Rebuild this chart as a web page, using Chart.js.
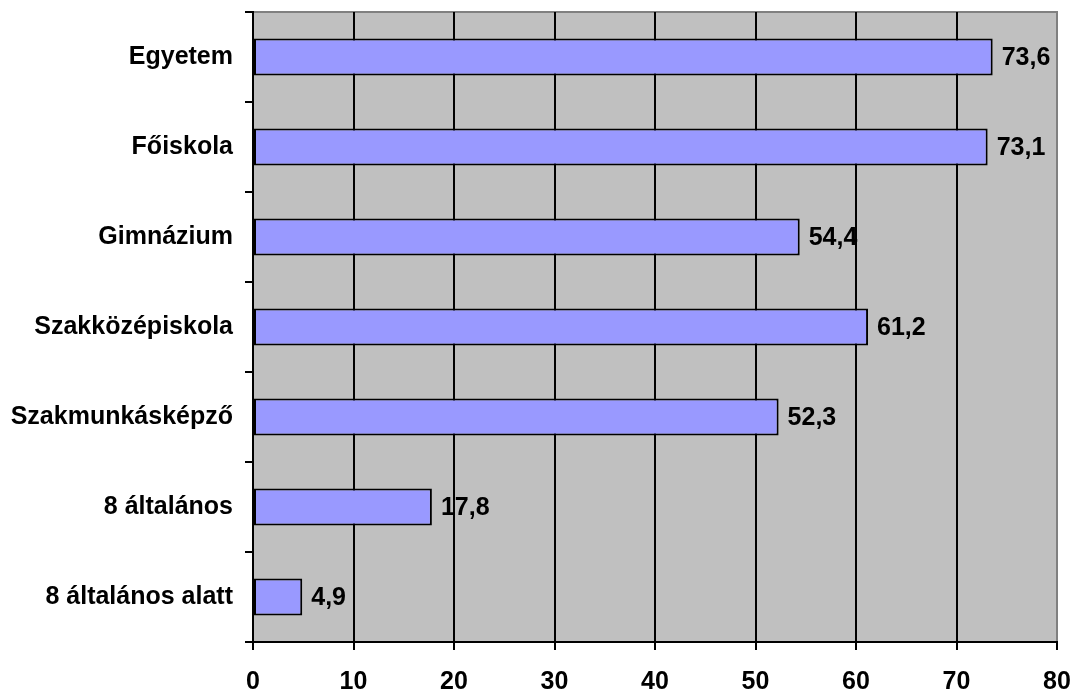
<!DOCTYPE html>
<html>
<head>
<meta charset="utf-8">
<script src="https://cdn.jsdelivr.net/npm/chart.js@4/dist/chart.umd.min.js"></script>
<style>
  html, body { margin: 0; padding: 0; background: #fff; }
  #wrap { width: 1073px; height: 692px; }
</style>
</head>
<body>
<div id="wrap"><canvas id="c"></canvas></div>
<script>
'use strict';

// ── Data ──────────────────────────────────────────────────
const categories = ['Egyetem', 'Főiskola', 'Gimnázium', 'Szakközépiskola',
                    'Szakmunkásképző', '8 általános', '8 általános alatt'];
const values     = [73.6, 73.1, 54.4, 61.2, 52.3, 17.8, 4.9];
const xTicksMax  = 80;
const xTickStep  = 10;

const FONT = { family: '"Liberation Sans", Arial, sans-serif', size: 25, weight: 'bold' };

function fmtVal(v) {
  return v.toFixed(1).replace('.', ',');
}

// ── Plot background + frame ──────────────────────────────
const plotBg = {
  id: 'plotBg',
  beforeDraw(chart) {
    const { ctx, chartArea: a } = chart;
    ctx.save();
    ctx.fillStyle = '#c0c0c0';
    ctx.fillRect(a.left, a.top, a.right - a.left, a.bottom - a.top);
    ctx.strokeStyle = '#808080';
    ctx.lineWidth = 2;
    ctx.beginPath();
    ctx.moveTo(a.left, a.top);
    ctx.lineTo(a.right, a.top);
    ctx.lineTo(a.right, a.bottom);
    ctx.stroke();
    ctx.restore();
  }
};

// ── Value labels ─────────────────────────────────────────
const valueLabels = {
  id: 'valueLabels',
  afterDatasetsDraw(chart) {
    const { ctx } = chart;
    const meta = chart.getDatasetMeta(0);
    ctx.save();
    ctx.font = `${FONT.weight} ${FONT.size}px ${FONT.family}`;
    ctx.fillStyle = '#000';
    ctx.textAlign = 'left';
    ctx.textBaseline = 'middle';
    meta.data.forEach((bar, i) => {
      ctx.fillText(fmtVal(values[i]), bar.x + 9, bar.y + 1);
    });
    ctx.restore();
  }
};

new Chart(document.getElementById('c'), {
  type: 'bar',
  data: {
    labels: categories,
    datasets: [{
      data: values,
      backgroundColor: '#9999ff',
      borderColor: '#000',
      borderWidth: 2,
      borderSkipped: false,
      barPercentage: 0.41,
      categoryPercentage: 1
    }]
  },
  options: {
    indexAxis: 'y',
    responsive: true,
    maintainAspectRatio: false,
    animation: false,
    layout: { padding: { top: 12, right: 16, left: 0, bottom: 0 } },
    plugins: {
      legend: { display: false },
      tooltip: { enabled: false }
    },
    scales: {
      x: {
        min: 0, max: xTicksMax,
        afterFit: s => { s.height = 50; s.paddingLeft = 0; s.paddingRight = 0; },
        ticks: { stepSize: xTickStep, color: '#000', font: FONT, padding: 17 },
        grid: {
          color: c => (c.tick && c.tick.value === xTicksMax) ? '#808080' : '#000',
          tickColor: '#000',
          lineWidth: 2, tickLength: 8, drawOnChartArea: true
        },
        border: { color: '#000', width: 2 }
      },
      y: {
        afterFit: s => { s.width = 253; s.paddingTop = 0; s.paddingBottom = 0; },
        ticks: { color: '#000', font: FONT, padding: 12 },
        grid: { offset: true, drawOnChartArea: false, color: '#000', lineWidth: 2, tickLength: 8 },
        border: { color: '#000', width: 2 }
      }
    }
  },
  plugins: [plotBg, valueLabels]
});
</script>
</body>
</html>
